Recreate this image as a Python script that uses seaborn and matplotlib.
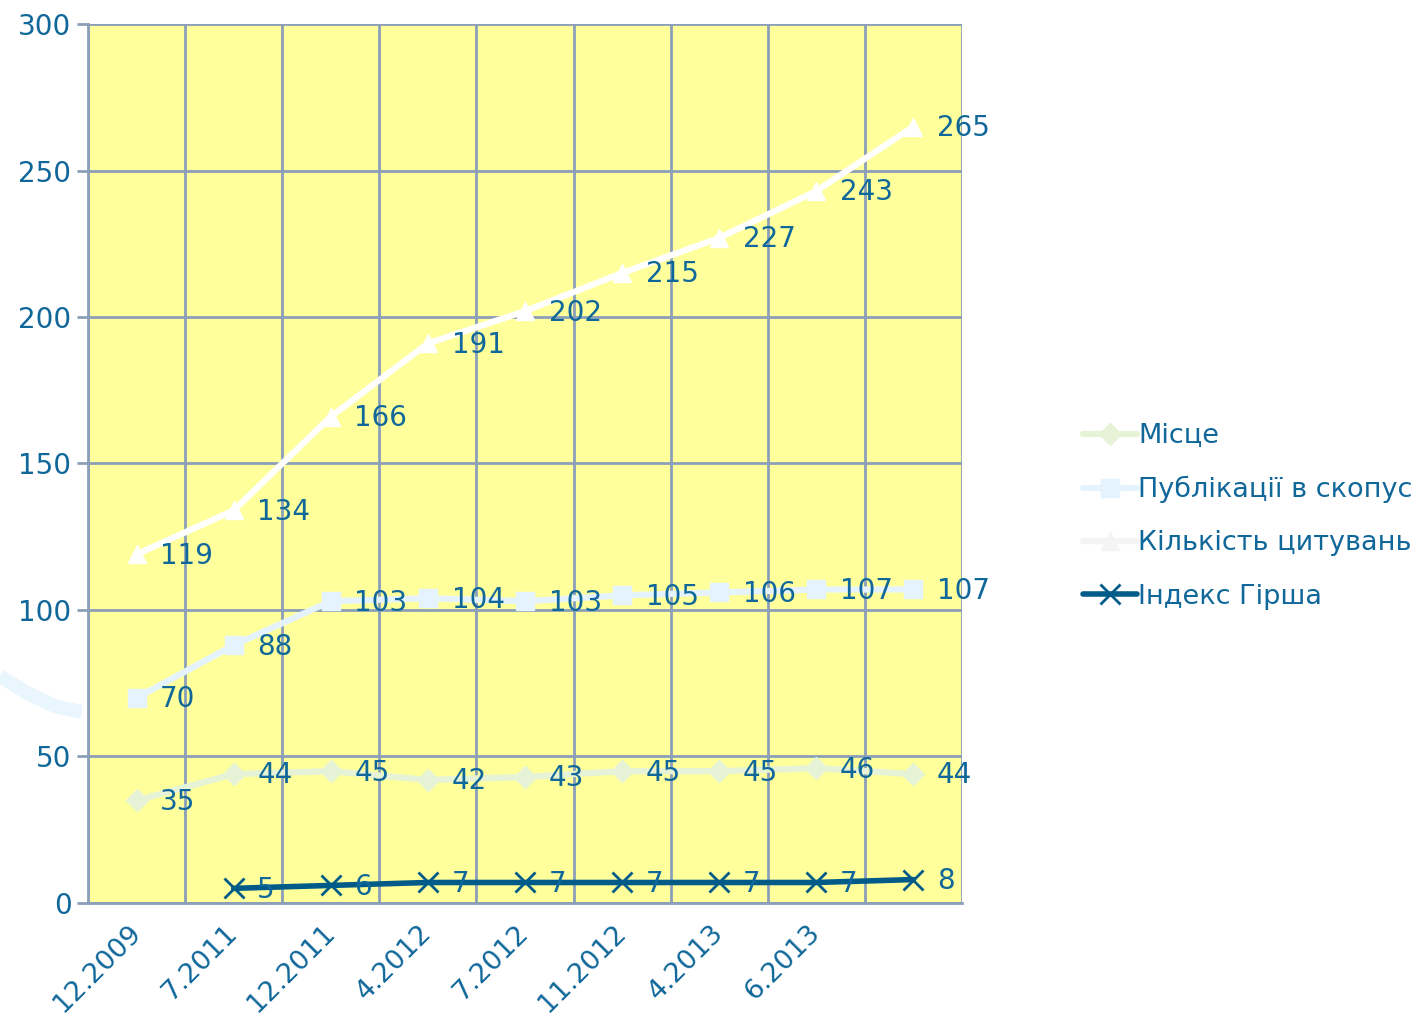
import numpy as np
import pandas as pd
import seaborn as sns
import matplotlib.pyplot as plt
from matplotlib.lines import Line2D

sns.set_theme(style='white')
plt.rcParams['font.family'] = ['DejaVu Sans']

dates = ['12.2009', '7.2011', '12.2011', '4.2012', '7.2012',
         '11.2012', '4.2013', '6.2013', '']
mistse = [35, 44, 45, 42, 43, 45, 45, 46, 44]
publ = [70, 88, 103, 104, 103, 105, 106, 107, 107]
cyt = [119, 134, 166, 191, 202, 215, 227, 243, 265]
hirsch = [np.nan, 5, 6, 7, 7, 7, 7, 7, 8]

names = ['Місце', 'Публікації в скопус', 'Кількість цитувань', 'Індекс Гірша']
series = [mistse, publ, cyt, hirsch]
colors = ['#e6f3d6', '#e4f3fd', '#ffffff', '#005b88']
leg_colors = ['#e6f3d6', '#e4f3fd', '#f4f4f4', '#005b88']
markers = ['D', 's', '^', 'x']
msizes = [11, 13, 13, 14]
txt = '#10679a'
grid = '#8c9fba'
fs = 20

x = np.arange(len(dates))
df = pd.DataFrame({'x': x})

fig = plt.figure(figsize=(14.11, 10.17), dpi=100)
ax = fig.add_axes([0.0624, 0.1121, 0.6194, 0.8643])
ax.set_facecolor('#ffff9c')

# faint decorative arc at left
fig.add_artist(Line2D([0.0, 0.02, 0.04, 0.058], [0.335, 0.318, 0.305, 0.300],
                      transform=fig.transFigure, color='#eaf6fe', lw=10,
                      solid_capstyle='butt', zorder=0))

handles = []
for name, vals, c, lc, m, ms in zip(names, series, colors, leg_colors, markers, msizes):
    df[name] = vals
    lw = 4 if name == 'Індекс Гірша' else 4.5
    mew = 2 if m == 'x' else 1
    sns.lineplot(data=df, x='x', y=name, ax=ax, color=c, lw=lw, marker=m,
                 markersize=ms, markeredgecolor=c, markeredgewidth=mew, zorder=3)
    for xi, v in zip(x, vals):
        if not np.isnan(v):
            ax.annotate(f'{int(v)}', (xi, v), xytext=(17, -1), textcoords='offset points',
                        va='center', ha='left', fontsize=fs, color=txt, zorder=4)
    handles.append(Line2D([], [], color=lc, lw=lw, marker=m, markersize=ms,
                          markeredgecolor=lc, markeredgewidth=mew))

ax.set_xlim(-0.5, len(dates) - 0.5)
ax.set_ylim(0, 300)
ax.set_yticks(range(0, 301, 50))
ax.set_xticks(x)
ax.set_xticklabels(dates, rotation=45, ha='right', va='center', rotation_mode='anchor')
ax.set_xticks(np.arange(-0.5, len(dates)), minor=True)
ax.tick_params(axis='x', which='major', length=0, pad=19, labelsize=19.5, labelcolor=txt)
ax.tick_params(axis='x', which='minor', length=8, width=2, color=grid, direction='out')
ax.tick_params(axis='y', length=8, width=2, color=grid, labelsize=fs, labelcolor=txt, pad=4,
               left=True)
ax.grid(True, which='minor', axis='x', color=grid, lw=2)
ax.grid(True, which='major', axis='y', color=grid, lw=2)
ax.set_xlabel('')
ax.set_ylabel('')
for s in ['top', 'right']:
    ax.spines[s].set_visible(False)
for s in ['left', 'bottom']:
    ax.spines[s].set_color(grid)
    ax.spines[s].set_linewidth(2)

fig.legend(handles, names, loc='upper left', bbox_to_anchor=(0.75, 0.608),
           frameon=False, fontsize=19.5, labelcolor=txt, handlelength=2.0,
           handletextpad=0.05, labelspacing=1.0)

fig.savefig('out.png', dpi=100)
